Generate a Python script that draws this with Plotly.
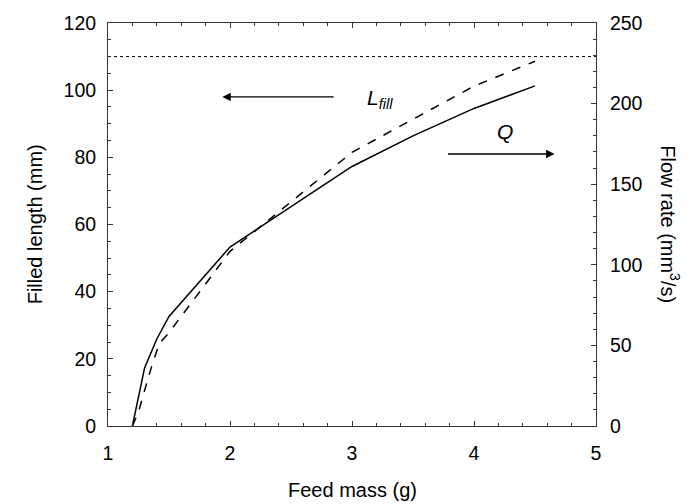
import plotly.graph_objects as go

# Feed mass (g)
feed_mass_L = [1.2, 1.25, 1.3, 1.36, 1.42, 1.5, 2.0, 3.0, 4.0, 4.5]
# Filled length (mm) - dashed, left axis
filled_length = [0, 4.2, 10.6, 18, 24.5, 27.8, 52, 81.5, 101.2, 108.6]

feed_mass_Q = [1.2, 1.3, 1.4, 1.5, 2.0, 3.0, 3.5, 4.0, 4.5]
# Flow rate (mm^3/s) - solid, right axis
flow_rate = [0, 36, 54, 68, 111, 161, 180, 197, 211]

max_length = 110  # dotted reference line (mm)

x_ticks = [1, 2, 3, 4, 5]
yl_ticks = [0, 20, 40, 60, 80, 100, 120]
yr_ticks = [0, 50, 100, 150, 200, 250]

FONT = "Liberation Sans, Arial, sans-serif"
AX = "#333333"

fig = go.Figure()
fig.add_trace(go.Scatter(x=[1, 5], y=[max_length, max_length], mode="lines",
                         line=dict(color="black", width=1, dash="dot"),
                         yaxis="y", showlegend=False))
fig.add_trace(go.Scatter(x=feed_mass_L, y=filled_length, mode="lines",
                         line=dict(color="black", width=1.5, dash="dash"),
                         yaxis="y", showlegend=False))
fig.add_trace(go.Scatter(x=feed_mass_Q, y=flow_rate, mode="lines",
                         line=dict(color="black", width=1.5),
                         yaxis="y2", showlegend=False))

tickfont = dict(family=FONT, size=19.5, color="black")
titlefont = dict(family=FONT, size=20, color="black")

fig.update_layout(
    width=700, height=504,
    margin=dict(l=108, r=104, t=20, b=78),
    paper_bgcolor="white", plot_bgcolor="white",
    font=dict(family=FONT, size=19, color="black"),
    xaxis=dict(range=[1, 5], tickvals=x_ticks, showgrid=False, zeroline=False,
               showline=True, linecolor=AX, linewidth=1, mirror="ticks",
               ticks="inside", ticklen=5, tickcolor=AX, tickwidth=1,
               minor=dict(dtick=0.2, ticks="inside", ticklen=3, tickcolor=AX, showgrid=False),
               tickfont=tickfont, ticklabelstandoff=10),
    yaxis=dict(range=[0, 120], tickvals=yl_ticks, showgrid=False, zeroline=False,
               showline=True, linecolor=AX, linewidth=1,
               ticks="inside", ticklen=5, tickcolor=AX, tickwidth=1,
               minor=dict(dtick=5, ticks="inside", ticklen=3, tickcolor=AX, showgrid=False),
               tickfont=tickfont, ticklabelstandoff=7),
    yaxis2=dict(range=[0, 250], tickvals=yr_ticks, overlaying="y", side="right",
                showgrid=False, zeroline=False,
                showline=True, linecolor=AX, linewidth=1,
                ticks="inside", ticklen=5, tickcolor=AX, tickwidth=1,
                minor=dict(dtick=10, ticks="inside", ticklen=3, tickcolor=AX, showgrid=False),
                tickfont=tickfont, ticklabelstandoff=9),
    annotations=[
        dict(text="Feed mass (g)", xref="paper", yref="paper", x=0.5, y=-0.158,
             yanchor="middle", showarrow=False, font=titlefont),
        dict(text="Filled length (mm)", xref="paper", yref="paper", x=-0.15, y=0.5,
             textangle=-90, xanchor="center", showarrow=False, font=titlefont),
        dict(text="Flow rate (mm<sup>3</sup>/s)", xref="paper", yref="paper", x=1.152, y=0.5,
             textangle=90, xanchor="center", showarrow=False, font=titlefont),
        dict(x=1.937, y=98, ax=2.862, ay=98, xref="x", yref="y", axref="x", ayref="y",
             text="", showarrow=True, arrowhead=2, arrowsize=1.3, arrowwidth=1.3, arrowcolor="black"),
        dict(x=4.66, y=81, ax=3.774, ay=81, xref="x", yref="y", axref="x", ayref="y",
             text="", showarrow=True, arrowhead=2, arrowsize=1.3, arrowwidth=1.3, arrowcolor="black"),
        dict(text="<i>L</i><sub><i>fill</i></sub>", x=3.23, y=97.5, xref="x", yref="y",
             showarrow=False, font=dict(family=FONT, size=21)),
        dict(text="<i>Q</i>", x=4.25, y=87.8, xref="x", yref="y",
             showarrow=False, font=dict(family=FONT, size=21)),
    ],
)

fig.write_html("out.html")
